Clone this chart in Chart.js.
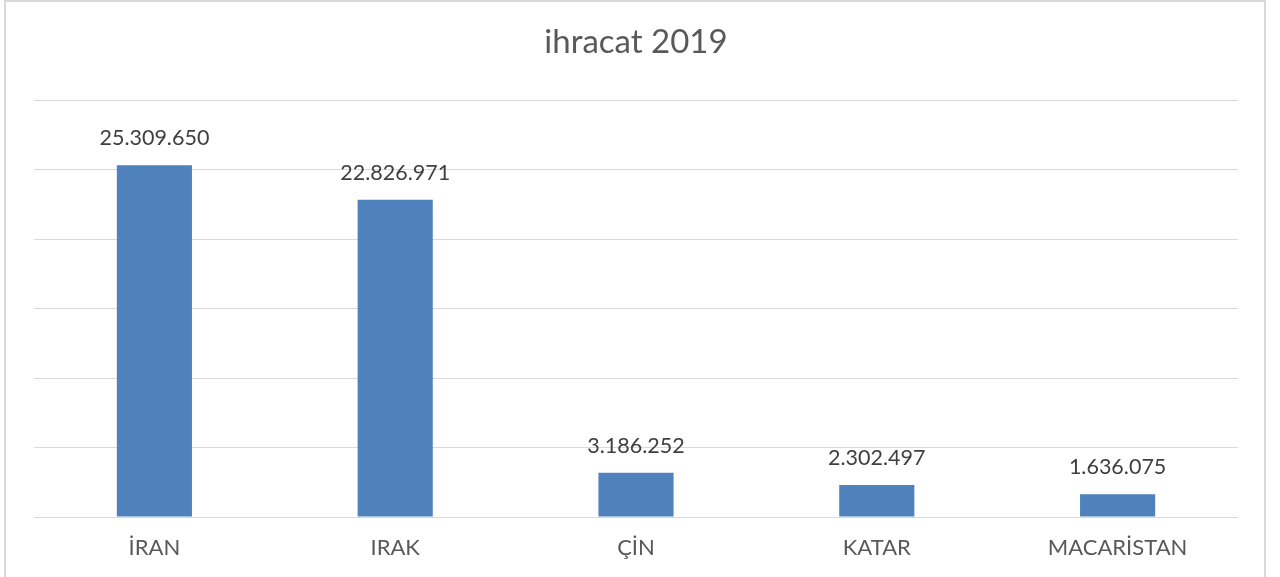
<!DOCTYPE html>
<html>
<head>
<meta charset="utf-8">
<script src="https://cdn.jsdelivr.net/npm/chart.js@4/dist/chart.umd.min.js"></script>
<style>
html,body{margin:0;padding:0;background:#fff;}
#wrap{position:relative;width:1280px;height:577px;overflow:hidden;}
#frame{position:absolute;left:4px;top:0px;width:1262px;height:590px;border:2px solid #d9d9d9;box-sizing:border-box;pointer-events:none;}
canvas{position:absolute;left:0;top:0;}
</style>
</head>
<body>
<div id="wrap">
<canvas id="c" width="1280" height="577"></canvas>
<div id="frame"></div>
</div>
<script>
const categories = ['İRAN', 'IRAK', 'ÇİN', 'KATAR', 'MACARİSTAN'];
const values = [25309650, 22826971, 3186252, 2302497, 1636075];
const chartTitle = 'ihracat 2019';
const yMax = 30000000;
const yStep = 5000000;

function fmt(v){
  return String(v).replace(/\B(?=(\d{3})+(?!\d))/g, '.');
}

const valueLabels = {
  id: 'valueLabels',
  afterDatasetsDraw(chart){
    const ctx = chart.ctx;
    const meta = chart.getDatasetMeta(0);
    ctx.save();
    ctx.font = '21.5px Lato, "Open Sans", sans-serif';
    ctx.fillStyle = '#404040';
    ctx.textAlign = 'center';
    ctx.textBaseline = 'middle';
    meta.data.forEach((bar, i) => {
      ctx.fillText(fmt(chart.data.datasets[0].data[i]), bar.x, bar.y - 27);
    });
    ctx.restore();
  }
};

new Chart(document.getElementById('c'), {
  type: 'bar',
  data: {
    labels: categories,
    datasets: [{
      data: values,
      backgroundColor: '#4f81bd',
      borderWidth: 0,
      categoryPercentage: 1,
      barPercentage: 0.312
    }]
  },
  options: {
    responsive: false,
    animation: false,
    devicePixelRatio: 1,
    layout: { padding: { left: 34, right: 42, top: 0, bottom: 0 } },
    plugins: {
      legend: { display: false },
      tooltip: { enabled: false },
      title: {
        display: true,
        text: chartTitle,
        color: '#595959',
        font: { family: 'Lato, "Open Sans", sans-serif', size: 33, weight: 'normal', lineHeight: 1.2 },
        padding: { top: 23, bottom: 37.4 }
      }
    },
    scales: {
      x: {
        grid: { display: false, drawTicks: false },
        border: { display: false },
        ticks: {
          color: '#595959',
          font: { family: 'Lato, "Open Sans", sans-serif', size: 22 },
          padding: 18,
          maxRotation: 0
        },
        afterFit(s){ s.height = 60; }
      },
      y: {
        min: 0,
        max: yMax,
        ticks: { display: false, stepSize: yStep },
        grid: { color: '#d9d9d9', lineWidth: 1, drawTicks: false },
        border: { display: false },
        afterFit(s){ s.width = 0; }
      }
    }
  },
  plugins: [valueLabels]
});
</script>
</body>
</html>
